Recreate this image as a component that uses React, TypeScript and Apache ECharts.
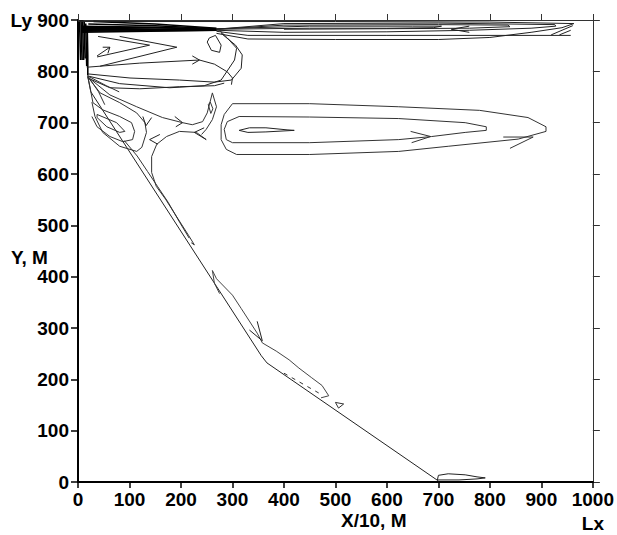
import React, { useEffect, useRef } from 'react';
import * as echarts from 'echarts';

type P = [number, number];

const FONT = '"Liberation Sans", Arial, sans-serif';

// axis settings
const xMin = 0, xMax = 1000, xStep = 100;
const yMin = 0, yMax = 900, yStep = 100;
const xName = 'X/10, M';
const yName = 'Y, M';

// solid boundary (slope) line
const wallLine: P[] = [[19, 791], [25, 760], [356, 246], [367, 232], [700, 2]];
// small loop at the foot of the slope
const bottomLoop: P[] = [[698, 4], [700, 13], [719, 16], [752, 14], [775, 10], [791, 8], [775, 6], [740, 4], [698, 4]];

// elongated eddy loops in the middle
const eddyOuter: P[] = [[300, 737], [450, 737], [623, 731], [780, 724], [874, 710], [909, 692], [909, 683], [855, 668], [719, 654], [623, 644], [450, 638], [308, 638], [288, 648], [278, 667], [278, 696], [284, 716], [300, 737]];
const eddyMid: P[] = [[313, 712], [450, 711], [623, 708], [752, 700], [793, 692], [793, 685], [752, 681], [687, 673], [623, 667], [450, 661], [300, 661], [288, 667], [284, 687], [290, 702], [313, 712]];
const eddyInner: P[] = [[313, 685], [333, 690], [365, 690], [406, 686], [420, 685], [365, 682], [330, 681], [313, 685]];
const eddyArrows: P[][] = [
  [[826, 672], [884, 672], [839, 650]],
  [[646, 683], [685, 673], [648, 661]],
];

// surface jet streamlines near the top
const topBand: P[][] = [
  [[8, 876], [269, 880]],
  [[8, 878], [269, 880]],
  [[8, 880], [269, 881]],
  [[8, 882], [269, 881]],
  [[8, 884], [269, 881]],
  [[8, 886], [150, 885], [269, 882]],
  [[8, 888], [150, 886], [269, 882]],
  [[20, 892], [150, 889], [269, 883]],
  [[30, 897], [150, 892], [269, 884]],
];
const leftDense: P[][] = [
  [[3, 899], [4, 860], [5, 822]],
  [[6, 899], [7, 850], [8, 822]],
  [[9, 899], [10, 850], [11, 822]],
  [[12, 897], [13, 850], [14, 825]],
  [[15, 893], [16, 850], [17, 810]],
  [[18, 880], [19, 830], [19, 792]],
];
const topLoops: P[][] = [
  [[0, 897], [500, 897], [800, 896], [963, 893], [940, 885], [880, 876], [800, 866], [700, 862], [500, 862], [330, 863], [269, 874]],
  [[269, 878], [330, 870], [600, 870], [957, 870]],
  [[269, 882], [400, 893], [700, 894], [926, 891], [928, 888], [880, 884], [760, 880], [600, 877], [400, 876], [269, 880]],
  [[269, 882], [400, 890], [700, 891], [835, 890], [839, 887], [760, 884], [600, 883], [400, 882]],
  [[269, 883], [450, 888], [650, 888], [706, 888], [690, 885], [600, 884], [450, 884], [269, 882]],
];
const topArrows: P[][] = [
  [[760, 888], [725, 882], [760, 876]],
  [[919, 871], [961, 889]],
  [[935, 871], [957, 880]],
];

// cells in the upper left corner
const cornerLines: P[][] = [
  [[39, 868], [139, 851], [37, 828]],
  [[81, 868], [192, 847], [43, 810]],
  [[37, 830], [62, 847]],
  [[48, 847], [62, 847], [58, 835]],
  [[17, 808], [120, 816], [236, 822], [265, 814], [290, 799], [300, 787], [298, 774]],
  [[19, 795], [101, 787], [197, 783], [265, 779], [298, 783], [317, 806], [319, 832], [306, 851], [278, 874]],
  [[19, 791], [81, 776], [178, 768], [245, 772], [278, 783], [304, 822], [308, 845], [290, 865], [275, 880]],
  [[19, 787], [62, 768], [120, 766], [197, 770], [265, 772], [284, 777]],
  [[255, 865], [267, 870], [278, 851], [275, 837], [259, 841], [251, 857], [255, 865]],
  [[222, 830], [236, 822], [222, 814]],
];

// fan of streamlines below the corner
const fanLines: P[][] = [
  [[37, 716], [75, 700], [91, 683], [81, 681], [56, 692], [37, 710], [37, 716]],
  [[19, 789], [25, 760], [29, 739], [48, 725], [81, 712], [104, 700], [110, 683], [106, 667], [87, 663], [62, 673], [37, 692], [27, 712]],
  [[19, 789], [43, 758], [81, 739], [114, 719], [130, 700], [133, 681], [124, 652], [114, 644], [81, 654], [48, 681], [33, 712], [27, 740]],
  [[19, 789], [62, 754], [114, 731], [164, 710], [203, 700], [222, 696], [242, 702], [251, 719], [261, 758], [269, 731], [261, 706], [249, 687], [240, 677]],
  [[249, 667], [230, 681], [197, 683], [172, 673], [153, 658], [143, 634], [143, 603], [152, 576], [170, 551], [194, 513], [215, 480], [226, 462], [220, 466]],
  [[90, 665], [115, 635], [135, 605], [155, 575], [175, 545], [198, 505], [216, 475]],
  [[19, 791], [40, 760], [52, 735]],
  [[19, 791], [55, 772], [80, 760]],
  [[253, 735], [258, 718], [262, 727], [257, 740], [253, 735]],
];
const fanArrows: P[][] = [
  [[188, 712], [203, 700], [190, 692]],
  [[126, 712], [132, 694], [143, 710]],
  [[159, 677], [139, 667], [155, 658]],
  [[245, 690], [226, 681], [249, 667]],
];

// thin eddy along the slope
const slopeEddy: P[] = [[261, 412], [269, 396], [300, 364], [317, 338], [348, 290], [358, 271], [385, 255], [410, 238], [429, 222], [454, 203], [474, 188], [487, 168], [472, 164]];
const slopeEddyLeft: P[] = [[261, 412], [265, 387], [275, 367]];
const slopeArrow: P[] = [[348, 313], [358, 275], [333, 296]];
const slopeDashes: P[] = [[400, 212], [470, 172]];
const slopeTriangle: P[] = [[500, 155], [516, 152], [506, 144], [500, 155]];

function ls(data: P[], color = '#1a1a1a', width = 1, type: any = 'solid') {
  return {
    type: 'line',
    data,
    showSymbol: false,
    symbol: 'none',
    silent: true,
    clip: true,
    lineStyle: { color, width, type },
    z: 3,
  };
}

export default function App() {
  const ref = useRef<HTMLDivElement>(null);
  useEffect(() => {
    if (!ref.current) return;
    const chart = echarts.init(ref.current, undefined, { renderer: 'svg' });
    const labelStyle = { color: '#000', fontSize: 19, fontWeight: 'bold' as const, fontFamily: FONT };
    const series: any[] = [
      ls(wallLine, '#222', 1),
      ls(bottomLoop, '#222', 1),
      ls(eddyOuter, '#333', 1),
      ls(eddyMid, '#333', 1),
      ls(eddyInner, '#222', 1),
      ...eddyArrows.map((d) => ls(d, '#333', 1)),
      ...topBand.map((d) => ls(d, '#000', 1.5)),
      ...leftDense.map((d) => ls(d, '#000', 1.6)),
      ...topLoops.map((d) => ls(d, '#222', 1)),
      ...topArrows.map((d) => ls(d, '#222', 1)),
      ...cornerLines.map((d) => ls(d, '#222', 1)),
      ...fanLines.map((d) => ls(d, '#333', 1)),
      ...fanArrows.map((d) => ls(d, '#222', 1)),
      ls(slopeEddy, '#444', 1),
      ls(slopeEddyLeft, '#444', 1),
      ls(slopeArrow, '#222', 1),
      ls(slopeDashes, '#333', 1, [4, 5]),
      ls(slopeTriangle, '#333', 1),
    ];
    chart.setOption({
      animation: false,
      backgroundColor: '#fff',
      grid: { left: 78, right: 22, top: 20, bottom: 50, containLabel: false },
      xAxis: [
        {
          type: 'value', min: xMin, max: xMax, interval: xStep, position: 'bottom',
          axisLine: { show: true, onZero: false, lineStyle: { color: '#000', width: 2 } },
          axisTick: { show: true, length: 6, lineStyle: { color: '#000', width: 1.5 } },
          axisLabel: {
            ...labelStyle, margin: 5, lineHeight: 24, showMinLabel: true, showMaxLabel: true,
            formatter: (v: number) => (v === xMax ? `${v}\nLx` : String(v)),
          },
          splitLine: { show: false },
        },
        {
          type: 'value', min: xMin, max: xMax, interval: xStep, position: 'top',
          axisLine: { show: true, onZero: false, lineStyle: { color: '#333', width: 1 } },
          axisTick: { show: true, length: 6, lineStyle: { color: '#333', width: 1 } },
          axisLabel: { show: false },
          splitLine: { show: false },
        },
      ],
      yAxis: [
        {
          type: 'value', min: yMin, max: yMax, interval: yStep, position: 'left',
          axisLine: { show: true, onZero: false, lineStyle: { color: '#000', width: 2 } },
          axisTick: { show: true, length: 7, lineStyle: { color: '#000', width: 1.5 } },
          axisLabel: {
            ...labelStyle, margin: 9, showMinLabel: true, showMaxLabel: true,
            formatter: (v: number) => (v === yMax ? `Ly ${v}` : String(v)),
          },
          splitLine: { show: false },
        },
        {
          type: 'value', min: yMin, max: yMax, interval: yStep, position: 'right',
          axisLine: { show: true, onZero: false, lineStyle: { color: '#333', width: 1 } },
          axisTick: { show: true, length: 7, lineStyle: { color: '#333', width: 1 } },
          axisLabel: { show: false },
          splitLine: { show: false },
        },
      ],
      graphic: [
        { type: 'text', left: 341, top: 511, style: { text: xName, ...labelStyle, fill: '#000' } },
        { type: 'text', left: 11, top: 248, style: { text: yName, ...labelStyle, fill: '#000' } },
      ],
      series,
    });
    return () => chart.dispose();
  }, []);
  return <div ref={ref} style={{ position: 'fixed', left: 0, top: 0, width: 617, height: 535 }} />;
}
